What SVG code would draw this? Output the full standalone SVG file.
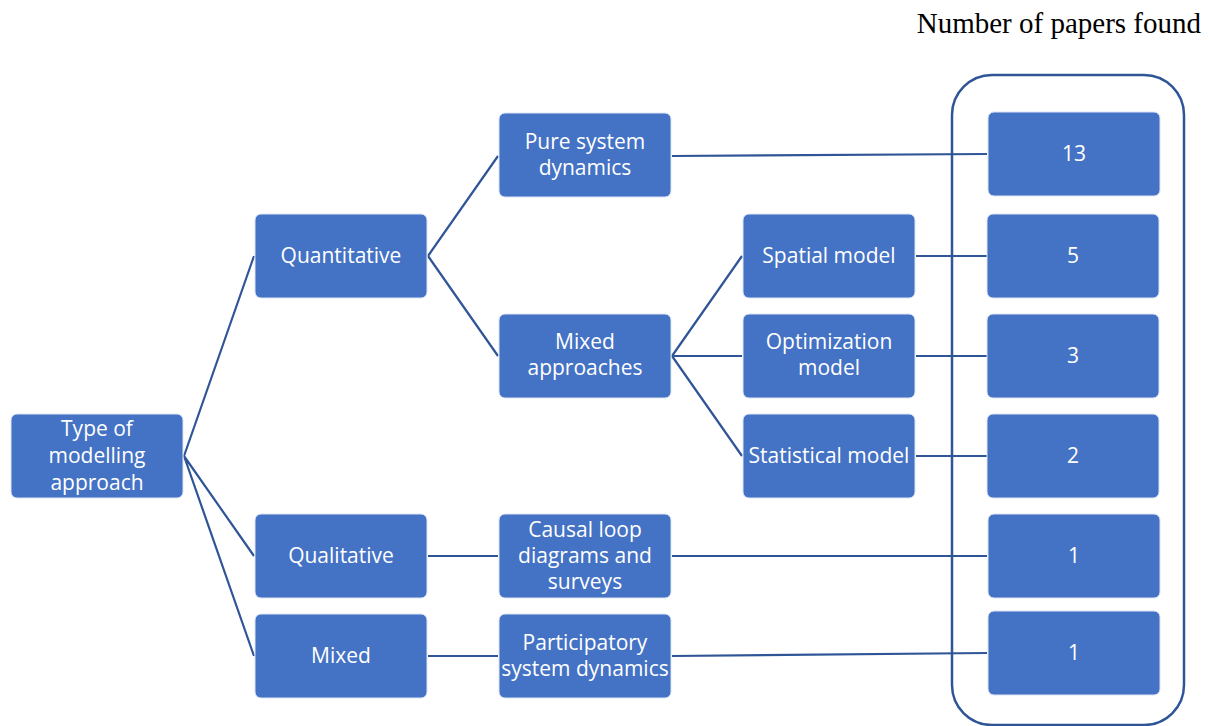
<svg xmlns="http://www.w3.org/2000/svg" width="1209" height="726" viewBox="0 0 1209 726">
<style>
.n{fill:#4472C4;stroke:#dbe3f3;stroke-width:1}
.t{fill:#fff;font-family:"Open Sans","Liberation Sans",sans-serif;font-size:21px;text-anchor:middle}
.c{stroke:#2F5597;stroke-width:2.2;fill:none}
</style>
<rect width="1209" height="726" fill="#fff"/>
<text x="1201" y="33" font-family="Liberation Serif,serif" font-size="29" fill="#000" text-anchor="end">Number of papers found</text>
<rect x="952" y="75" width="232" height="650" rx="40" fill="none" stroke="#2F5597" stroke-width="2.5"/>
<g id="connectors">
<path class="c" d="M184 456L254 256M184 456L254 556M184 456L254 656"/>
<path class="c" d="M428 256L498 156M428 256L498 356"/>
<path class="c" d="M672 356L742 256M672 356L742 356M672 356L742 456"/>
<path class="c" d="M672 156L987 154M916 256L987 256M916 356L987 356M916 456L987 456M428 556L498 556M672 556L987 556M428 656L498 656M672 656L987 653"/>
</g>
<g id="root"><rect class="n" x="11" y="414" width="172" height="84" rx="6"/><text class="t" x="97" y="436">Type of</text><text class="t" x="97" y="463">modelling</text><text class="t" x="97" y="490">approach</text></g>
<g id="quantitative"><rect class="n" x="255" y="214" width="172" height="84" rx="6"/><text class="t" x="341" y="263">Quantitative</text></g>
<g id="qualitative"><rect class="n" x="255" y="514" width="172" height="84" rx="6"/><text class="t" x="341" y="563">Qualitative</text></g>
<g id="mixed"><rect class="n" x="255" y="614" width="172" height="84" rx="6"/><text class="t" x="341" y="663">Mixed</text></g>
<g id="pure"><rect class="n" x="499" y="113" width="172" height="84" rx="6"/><text class="t" x="585" y="149">Pure system</text><text class="t" x="585" y="175">dynamics</text></g>
<g id="mixedapproaches"><rect class="n" x="499" y="314" width="172" height="84" rx="6"/><text class="t" x="585" y="349">Mixed</text><text class="t" x="585" y="375">approaches</text></g>
<g id="causal"><rect class="n" x="499" y="514" width="172" height="84" rx="6"/><text class="t" x="585" y="537">Causal loop</text><text class="t" x="585" y="563">diagrams and</text><text class="t" x="585" y="589">surveys</text></g>
<g id="participatory"><rect class="n" x="499" y="614" width="172" height="84" rx="6"/><text class="t" x="585" y="650">Participatory</text><text class="t" x="585" y="676">system dynamics</text></g>
<g id="spatial"><rect class="n" x="743" y="214" width="172" height="84" rx="6"/><text class="t" x="829" y="263">Spatial model</text></g>
<g id="optimization"><rect class="n" x="743" y="314" width="172" height="84" rx="6"/><text class="t" x="829" y="349">Optimization</text><text class="t" x="829" y="375">model</text></g>
<g id="statistical"><rect class="n" x="743" y="414" width="172" height="84" rx="6"/><text class="t" x="829" y="463">Statistical model</text></g>
<g id="n13"><rect class="n" x="988" y="112" width="172" height="84" rx="6"/><text class="t" x="1074" y="161">13</text></g>
<g id="n5"><rect class="n" x="987" y="214" width="172" height="84" rx="6"/><text class="t" x="1073" y="263">5</text></g>
<g id="n3"><rect class="n" x="987" y="314" width="172" height="84" rx="6"/><text class="t" x="1073" y="363">3</text></g>
<g id="n2"><rect class="n" x="987" y="414" width="172" height="84" rx="6"/><text class="t" x="1073" y="463">2</text></g>
<g id="n1a"><rect class="n" x="988" y="514" width="172" height="84" rx="6"/><text class="t" x="1074" y="563">1</text></g>
<g id="n1b"><rect class="n" x="988" y="611" width="172" height="84" rx="6"/><text class="t" x="1074" y="660">1</text></g>
</svg>
